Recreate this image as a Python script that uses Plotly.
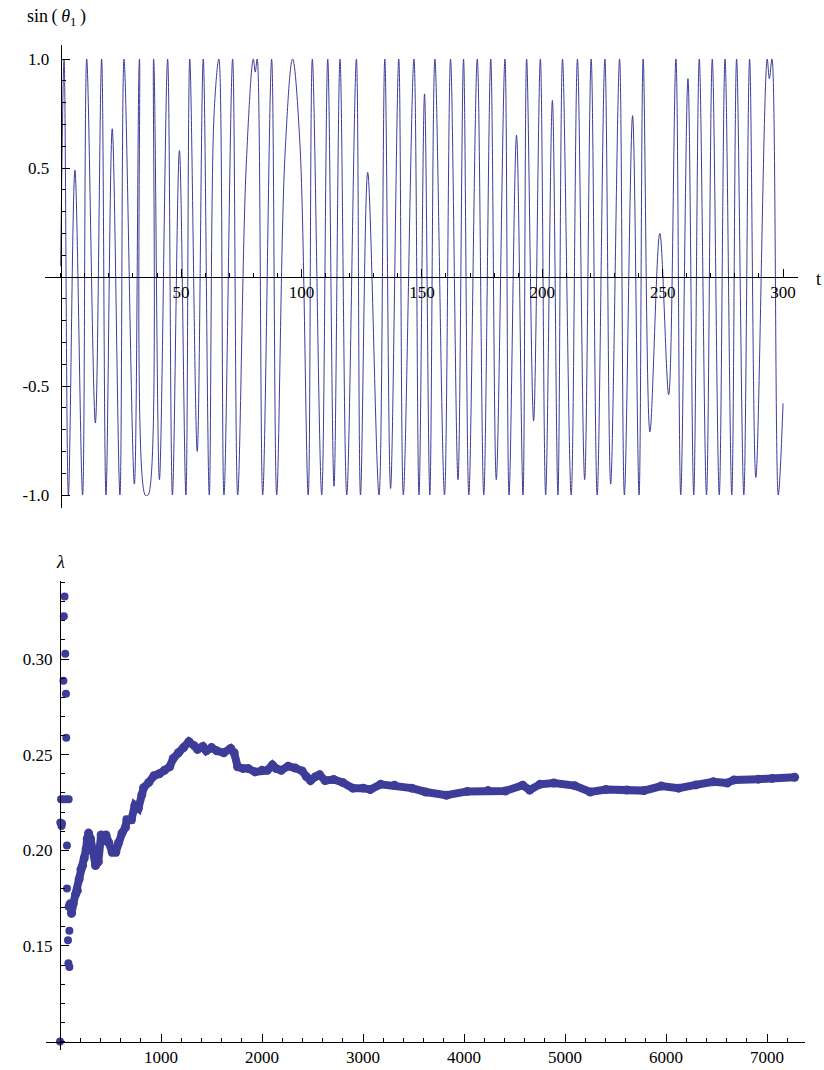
import plotly.graph_objects as go

# ---------------- data: top panel (extrema / shoulders) -------------
t_pts = [0.0, 1.4, 3.2, 5.9, 9.1, 10.8, 14.4, 17.0, 18.8, 21.4, 24.6, 26.3, 30.6, 32.7,
         35.1, 36.3, 38.6, 41.0, 44.4, 46.4, 49.3, 52.0, 53.6, 56.7, 59.2, 61.7, 63.7,
         65.7, 67.8, 71.4, 73.5, 77.0, 80.0, 80.8, 81.6, 83.9, 87.6, 89.7, 93.1, 96.3,
         99.4, 102.8, 104.5, 108.4, 110.9, 113.5, 116.0, 118.8, 122.8, 124.5, 127.5,
         132.2, 134.6, 137.0, 140.4, 142.3, 146.7, 148.8, 151.1, 153.3, 155.4, 159.4,
         161.9, 165.0, 167.3, 169.5, 173.0, 175.7, 178.6, 180.9, 184.5, 186.2, 189.3,
         192.0, 193.5, 196.4, 199.2, 201.4, 204.2, 206.5, 208.4, 212.0, 214.6, 217.6,
         220.3, 222.8, 226.0, 228.4, 232.1, 234.1, 237.5, 240.2, 241.9, 244.7, 248.8,
         252.5, 255.5, 257.5, 260.5, 262.9, 265.2, 268.2, 270.6, 273.5, 275.9, 278.7,
         280.7, 283.7, 286.1, 288.7, 293.4, 294.3, 295.4, 298.0, 300.0]
sin_pts = [0.05, 1.0, -1.0, 0.49, -1.0, 1.0, -0.67, 1.0, -1.0, 0.68, -1.0, 1.0, -0.95, 1.0,
           -1.0, -1.0, 1.0, -0.93, 1.0, -1.0, 0.58, -1.0, 1.0, -0.80, 1.0, -1.0, 0.75,
           1.0, -1.0, 1.0, -1.0, 0.50, 1.0, 0.94, 1.0, -1.0, 1.0, -1.0, 0.55, 1.0,
           0.60, -1.0, 1.0, -1.0, 1.0, -0.96, 1.0, -1.0, 1.0, -1.0, 0.48,
           -1.0, 1.0, -0.97, 1.0, -1.0, 1.0, -1.0, 0.84, -1.0, 1.0, -1.0,
           1.0, -0.93, 1.0, -1.0, 1.0, -1.0, 1.0, -0.93, 1.0, -1.0, 0.65,
           -1.0, 1.0, -0.66, 1.0, -1.0, 0.81, -1.0, 1.0, -1.0, 1.0, -0.93,
           1.0, -1.0, 1.0, -0.95, 1.0, -1.0, 0.74, -1.0, 1.0, -0.71, 0.20,
           -0.54, 1.0, -1.0, 0.91, -1.0, 1.0, -1.0, 1.0, -1.0, 1.0, -1.0,
           1.0, -1.0, 1.0, -0.92, 1.0, 0.91, 1.0, -1.0, -0.58]

t_ticks = [50, 100, 150, 200, 250, 300]
sin_ticks = [-1.0, -0.5, 0.5, 1.0]
sin_ticktext = ["-1.0", "-0.5", "0.5", "1.0"]

# ---------------- data: bottom panel ----------------
it_early = [0, 3, 10, 15, 20, 34, 34, 38, 45, 52, 59, 62, 62, 69, 69, 79, 83, 86, 86, 93, 93]
lam_early = [0.100, 0.2145, 0.2267, 0.2127, 0.2140, 0.2887, 0.2267, 0.3223, 0.3327, 0.3027,
             0.2819, 0.2589, 0.2267, 0.2025, 0.1800, 0.1530, 0.1410, 0.2267, 0.1705, 0.1580,
             0.1390]

it_trail = [100, 114, 131, 155, 172, 190, 207, 224, 241, 259, 269, 283, 303, 328, 352, 379,
            407, 431, 455, 483, 517, 552, 579, 614, 648, 662, 707, 741, 776, 810, 828, 879,
            931, 983, 1034, 1086, 1121, 1172, 1224, 1276, 1328, 1362, 1414, 1448, 1500,
            1552, 1621, 1690, 1724, 1759, 1810, 1862, 1931, 2000, 2052, 2103, 2138, 2190,
            2259, 2328, 2397, 2440, 2480, 2530, 2570, 2625, 2710, 2797, 2900, 3003, 3072,
            3174, 3312, 3483, 3620, 3826, 4032, 4238, 4409, 4581, 4650, 4752, 4889, 5095,
            5250, 5404, 5610, 5782, 5953, 6125, 6296, 6468, 6605, 6674, 6914, 7052, 7273]
lam_trail = [0.172, 0.167, 0.172, 0.177, 0.179, 0.185, 0.190, 0.192, 0.196, 0.2007, 0.206,
             0.209, 0.206, 0.200, 0.192, 0.194, 0.208, 0.205, 0.208, 0.204, 0.199, 0.199,
             0.204, 0.209, 0.212, 0.216, 0.216, 0.2235, 0.222, 0.229, 0.2327, 0.2355,
             0.239, 0.240, 0.2418, 0.2437, 0.248, 0.251, 0.2537, 0.2568, 0.2547, 0.2528,
             0.2543, 0.252, 0.2537, 0.252, 0.251, 0.2532, 0.251, 0.2437, 0.2428, 0.2428,
             0.241, 0.2418, 0.2418, 0.2446, 0.2428, 0.2418, 0.244, 0.2430, 0.2415, 0.2385,
             0.2365, 0.2385, 0.2395, 0.2365, 0.2370, 0.2355, 0.2325, 0.2325, 0.2318,
             0.2345, 0.2340, 0.2325, 0.2305, 0.2288, 0.2308, 0.2312, 0.2310, 0.2340,
             0.2315, 0.2345, 0.2352, 0.2338, 0.2305, 0.2318, 0.2315, 0.2312, 0.2336,
             0.2325, 0.2342, 0.2358, 0.2352, 0.2368, 0.2372, 0.2376, 0.2382]

it_ticks = [1000, 2000, 3000, 4000, 5000, 6000, 7000]
lam_ticks = [0.15, 0.20, 0.25, 0.30]
lam_ticktext = ["0.15", "0.20", "0.25", "0.30"]

# ---------------- figure ----------------
W, H = 824, 1070
COL = "#3d3d99"
FAMILY = "Liberation Serif"
FONT = dict(family=FAMILY, size=17, color="black")
LABEL_FONT = dict(family=FAMILY, size=18, color="black")

def px(x):
    return x / W

def py(y):
    return 1 - y / H

fig = go.Figure()
fig.add_trace(go.Scatter(x=t_pts, y=sin_pts, mode="lines",
                         line=dict(color=COL, width=1, shape="spline", smoothing=1.0),
                         xaxis="x", yaxis="y", hoverinfo="skip"))
fig.add_trace(go.Scatter(x=it_trail, y=lam_trail, mode="lines+markers",
                         line=dict(color=COL, width=8),
                         marker=dict(size=9, color=COL),
                         xaxis="x2", yaxis="y2", hoverinfo="skip"))
fig.add_trace(go.Scatter(x=it_early, y=lam_early, mode="markers",
                         marker=dict(size=8, color=COL),
                         xaxis="x2", yaxis="y2", hoverinfo="skip"))

axis_common = dict(showline=True, linecolor="black", linewidth=1, ticks="inside",
                   tickcolor="black", ticklen=8, tickwidth=1, showgrid=False,
                   zeroline=False, tickfont=FONT, fixedrange=True)

fig.update_layout(
    width=W, height=H, margin=dict(l=0, r=0, t=0, b=0),
    plot_bgcolor="white", paper_bgcolor="white", showlegend=False,
    font=dict(family=FAMILY, size=17, color="black"),
    xaxis=dict(domain=[px(45), px(798)], range=[-6.52, 306.2], anchor="free",
               position=py(277), tickmode="array", tickvals=t_ticks,
               ticktext=[str(v) for v in t_ticks],
               minor=dict(tickmode="linear", tick0=0, dtick=10, ticks="inside",
                          ticklen=4, tickcolor="black"), **axis_common),
    yaxis=dict(domain=[py(508), py(45)], range=[-1.0596, 1.0642], anchor="free",
               position=px(60.7), tickmode="array", tickvals=sin_ticks,
               ticktext=sin_ticktext, ticklabelstandoff=8,
               minor=dict(tickmode="linear", tick0=0, dtick=0.1, ticks="inside",
                          ticklen=4, tickcolor="black"), **axis_common),
    xaxis2=dict(domain=[px(46), px(805)], range=[-138.6, 7376], anchor="free",
                position=py(1041.7), tickmode="array", tickvals=it_ticks,
                ticktext=[str(v) for v in it_ticks],
                minor=dict(tickmode="linear", tick0=0, dtick=200, ticks="inside",
                           ticklen=4, tickcolor="black"), **axis_common),
    yaxis2=dict(domain=[py(1050), py(580.6)], range=[0.0956, 0.341], anchor="free",
                position=px(60), tickmode="array", tickvals=lam_ticks,
                ticktext=lam_ticktext, ticklabelstandoff=4,
                minor=dict(tickmode="linear", tick0=0.1, dtick=0.01, ticks="inside",
                           ticklen=4, tickcolor="black"), **axis_common),
)

fig.add_annotation(text="sin\u2009(\u2009<i>θ</i><sub>1</sub>\u2009)", xref="paper",
                   yref="paper", x=px(25), y=py(18), xanchor="left", yanchor="middle",
                   showarrow=False, font=LABEL_FONT)
fig.add_annotation(text="t", xref="paper", yref="paper", x=px(818), y=py(279),
                   xanchor="center", yanchor="middle", showarrow=False, font=LABEL_FONT)
fig.add_annotation(text="<i>λ</i>", xref="paper", yref="paper", x=px(61), y=py(562),
                   xanchor="center", yanchor="middle", showarrow=False, font=LABEL_FONT)

fig.write_html("out.html", config={"displayModeBar": False},
               post_script="document.body.style.margin='0px';")
